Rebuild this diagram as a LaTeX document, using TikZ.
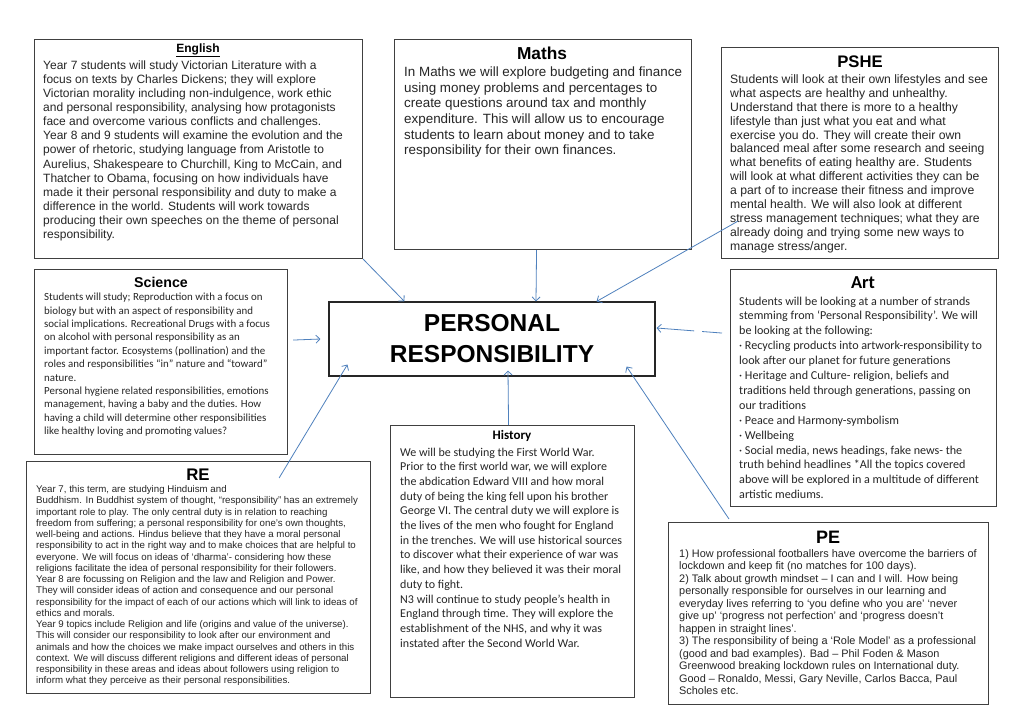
\documentclass[tikz,border=0pt]{standalone}
\usepackage{fontspec}
\setmainfont{Liberation Sans}
\newfontfamily\calibri{Carlito}
\usetikzlibrary{arrows.meta}
\definecolor{linkblue}{RGB}{79,129,189}

\begin{document}
\begin{tikzpicture}[x=1pt,y=-1pt,
  subjbox/.style={draw=black!75,line width=1.1pt,anchor=north west,inner sep=0pt},
  ttl/.style={font=\bfseries\fontsize{#1}{#1}\selectfont,inner sep=0pt},
  body/.style={anchor=north west,align=left,inner sep=0pt,text=black!85},
  link/.style={draw=linkblue,line width=0.8pt,-{Straight Barb[length=4pt,width=8pt]}}]
  \useasboundingbox[fill=white] (0,0) rectangle (1018,714);

  % centre box
  \node[draw=black!85,line width=1.1pt,minimum width=326,minimum height=74,align=center,
        font=\bfseries\fontsize{24.5}{31}\selectfont] (core) at (492,339) {PERSONAL\\RESPONSIBILITY};

  % subject boxes
  \node[subjbox,minimum width=328,minimum height=219] (english) at (34,39) {};
  \node[subjbox,minimum width=297,minimum height=210] (maths) at (394,39) {};
  \node[subjbox,minimum width=277,minimum height=211] (pshe) at (721,47) {};
  \node[subjbox,minimum width=253,minimum height=185] (science) at (34,269) {};
  \node[subjbox,minimum width=266,minimum height=237] (art) at (730,269) {};
  \node[subjbox,minimum width=344,minimum height=232] (re) at (26,461) {};
  \node[subjbox,minimum width=244,minimum height=272] (history) at (390,425) {};
  \node[subjbox,minimum width=320,minimum height=182] (pe) at (668,522) {};

  % titles
  \node[ttl=12] (englishttl) at (198,50) {\underline{English}};
  \node[ttl=17.3] (mathsttl) at (542,53) {Maths};
  \node[ttl=16.7] (pshettl) at (860,62) {PSHE};
  \node[ttl=14.2] (sciencettl) at (161,282) {Science};
  \node[ttl=18.3] (artttl) at (863,283) {\calibri\bfseries Art};
  \node[ttl=16.8] (rettl) at (198,475) {RE};
  \node[ttl=13] (historyttl) at (512,436) {\calibri\bfseries History};
  \node[ttl=18] (pettl) at (828,537) {PE};

  % body texts
  \node[body,font=\fontsize{12}{14.1}\selectfont] (englishtxt) at (43,60.5) {Year 7 students will study Victorian Literature with a\\
focus on texts by Charles Dickens; they will explore\\
Victorian morality including non-indulgence, work ethic\\
and personal responsibility, analysing how protagonists\\
face and overcome various conflicts and challenges.\\
Year 8 and 9 students will examine the evolution and the\\
power of rhetoric, studying language from Aristotle to\\
Aurelius, Shakespeare to Churchill, King to McCain, and\\
Thatcher to Obama, focusing on how individuals have\\
made it their personal responsibility and duty to make a\\
difference in the world. Students will work towards\\
producing their own speeches on the theme of personal\\
responsibility.};
  \node[body,font=\fontsize{13.4}{15.6}\selectfont] (mathstxt) at (404,66.8) {In Maths we will explore budgeting and finance\\
using money problems and percentages to\\
create questions around tax and monthly\\
expenditure. This will allow us to encourage\\
students to learn about money and to take\\
responsibility for their own finances.};
  \node[body,font=\fontsize{12.2}{13.9}\selectfont] (pshetxt) at (730,74.4) {Students will look at their own lifestyles and see\\
what aspects are healthy and unhealthy.\\
Understand that there is more to a healthy\\
lifestyle than just what you eat and what\\
exercise you do. They will create their own\\
balanced meal after some research and seeing\\
what benefits of eating healthy are. Students\\
will look at what different activities they can be\\
a part of to increase their fitness and improve\\
mental health. We will also look at different\\
stress management techniques; what they are\\
already doing and trying some new ways to\\
manage stress/anger.};
  \node[body,font=\calibri\fontsize{10.9}{13.4}\selectfont] (sciencetxt) at (44,293) {Students will study; Reproduction with a focus on\\
biology but with an aspect of responsibility and\\
social implications. Recreational Drugs with a focus\\
on alcohol with personal responsibility as an\\
important factor. Ecosystems (pollination) and the\\
roles and responsibilities “in” nature and “toward”\\
nature.\\
Personal hygiene related responsibilities, emotions\\
management, having a baby and the duties. How\\
having a child will determine other responsibilities\\
like healthy loving and promoting values?};
  \node[body,font=\calibri\fontsize{12.1}{14.9}\selectfont] (arttxt) at (739,296.4) {Students will be looking at a number of strands\\
stemming from ‘Personal Responsibility’. We will\\
be looking at the following:\\
· Recycling products into artwork-responsibility to\\
look after our planet for future generations\\
· Heritage and Culture- religion, beliefs and\\
traditions held through generations, passing on\\
our traditions\\
· Peace and Harmony-symbolism\\
· Wellbeing\\
· Social media, news headings, fake news- the\\
truth behind headlines *All the topics covered\\
above will be explored in a multitude of different\\
artistic mediums.};
  \node[body,font=\fontsize{9.7}{11.24}\selectfont] (retxt) at (36,485.5) {Year 7, this term, are studying Hinduism and\\
Buddhism. In Buddhist system of thought, “responsibility” has an extremely\\
important role to play. The only central duty is in relation to reaching\\
freedom from suffering; a personal responsibility for one’s own thoughts,\\
well-being and actions. Hindus believe that they have a moral personal\\
responsibility to act in the right way and to make choices that are helpful to\\
everyone. We will focus on ideas of ‘dharma’- considering how these\\
religions facilitate the idea of personal responsibility for their followers.\\
Year 8 are focussing on Religion and the law and Religion and Power.\\
They will consider ideas of action and consequence and our personal\\
responsibility for the impact of each of our actions which will link to ideas of\\
ethics and morals.\\
Year 9 topics include Religion and life (origins and value of the universe).\\
This will consider our responsibility to look after our environment and\\
animals and how the choices we make impact ourselves and others in this\\
context. We will discuss different religions and different ideas of personal\\
responsibility in these areas and ideas about followers using religion to\\
inform what they perceive as their personal responsibilities.};
  \node[body,font=\calibri\fontsize{12}{14.7}\selectfont] (historytxt) at (400,447.5) {We will be studying the First World War.\\
Prior to the first world war, we will explore\\
the abdication Edward VIII and how moral\\
duty of being the king fell upon his brother\\
George VI. The central duty we will explore is\\
the lives of the men who fought for England\\
in the trenches. We will use historical sources\\
to discover what their experience of war was\\
like, and how they believed it was their moral\\
duty to fight.\\
N3 will continue to study people’s health in\\
England through time. They will explore the\\
establishment of the NHS, and why it was\\
instated after the Second World War.};
  \node[body,font=\fontsize{10.9}{12.5}\selectfont] (petxt) at (679,549) {1) How professional footballers have overcome the barriers of\\
lockdown and keep fit (no matches for 100 days).\\
2) Talk about growth mindset – I can and I will. How being\\
personally responsible for ourselves in our learning and\\
everyday lives referring to ‘you define who you are’ ‘never\\
give up’ ‘progress not perfection’ and ‘progress doesn’t\\
happen in straight lines’.\\
3) The responsibility of being a ‘Role Model’ as a professional\\
(good and bad examples). Bad – Phil Foden \& Mason\\
Greenwood breaking lockdown rules on International duty.\\
Good – Ronaldo, Messi, Gary Neville, Carlos Bacca, Paul\\
Scholes etc.};

  % arrows into the centre
  \draw[link] (english.south east) -- ([xshift=76]core.north west);
  \draw[link] ([xshift=-6.5]maths.south) -- ([xshift=44]core.north);
  \draw[link] ([xshift=17,yshift=38]pshe.south west) -- ([xshift=-59]core.north east);
  \draw[link] ([xshift=5,yshift=22]science.east) -- ([xshift=-8]core.west);
  \draw[link,dash pattern=on 20pt off 8pt on 80pt] ([xshift=-8,yshift=55]art.west) -- ([xshift=1,yshift=11]core.east);
  \draw[link] ([xshift=-92,yshift=-17]re.north east) -- ([xshift=19,yshift=12]core.south west);
  \draw[link] ([xshift=-4]history.north) -- ([xshift=16,yshift=6]core.south);
  \draw[link] ([xshift=61,yshift=3]pe.north west) -- ([xshift=-29,yshift=10]core.south east);
\end{tikzpicture}
\end{document}
